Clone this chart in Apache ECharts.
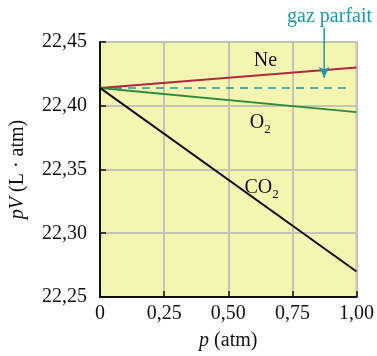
<!DOCTYPE html>
<html>
<head>
<meta charset="utf-8">
<script src="https://cdn.jsdelivr.net/npm/echarts@6/dist/echarts.min.js"></script>
<style>
  html, body { margin: 0; padding: 0; background: #fff; }
  #main { width: 377px; height: 356px; }
</style>
</head>
<body>
<div id="main"></div>
<script>
// pression (atm) aux extrémités des droites
var pressure = [0, 1.0];
var ne = [22.414, 22.430];
var o2 = [22.414, 22.395];
var co2 = [22.414, 22.270];
// gaz parfait : pV constant
var idealP = [0, 0.965];
var ideal = [22.414, 22.414];
// flèche "gaz parfait"
var arrowP = [0.874, 0.874];
var arrowPV = [22.461, 22.422];

var xTicks = ['0', '0,25', '0,50', '0,75', '1,00'];
var yMin = 22.25, yMax = 22.45;

function pairs(xs, ys) {
    return xs.map(function (x, i) { return [x, ys[i]]; });
}

var serif = 'Liberation Serif';
var ink = '#111';
var teal = '#1f97ab';
var myChart = echarts.init(document.getElementById('main'));

myChart.setOption({
    animation: false,
    textStyle: { fontFamily: serif },
    grid: {
        left: 96, right: 20, top: 42, bottom: 59,
        show: true,
        backgroundColor: '#f3f5b0',
        borderColor: '#c4c4b6',
        borderWidth: 2
    },
    xAxis: {
        type: 'value',
        min: 0, max: 1, interval: 0.25,
        name: '{i|p} (atm)',
        nameLocation: 'middle',
        nameGap: 34,
        nameTextStyle: {
            fontFamily: serif, fontSize: 20, color: ink,
            rich: { i: { fontFamily: serif, fontStyle: 'italic', fontSize: 20, color: ink } }
        },
        axisLine: { lineStyle: { color: ink, width: 2 } },
        axisTick: { inside: true, length: 6, lineStyle: { color: ink, width: 1.5 } },
        axisLabel: {
            fontFamily: serif, fontSize: 20, color: ink, margin: 7,
            formatter: function (v) { return xTicks[Math.round(v / 0.25)]; }
        },
        splitLine: { show: true, lineStyle: { color: '#c4c4b6', width: 2 } }
    },
    yAxis: {
        type: 'value',
        min: yMin, max: yMax, interval: 0.05,
        name: '{i|pV} (L · atm)',
        nameLocation: 'middle',
        nameGap: 72,
        nameRotate: 90,
        nameTextStyle: {
            fontFamily: serif, fontSize: 20, color: ink,
            rich: { i: { fontFamily: serif, fontStyle: 'italic', fontSize: 20, color: ink } }
        },
        axisLine: { show: true, lineStyle: { color: ink, width: 2 } },
        axisTick: { show: true, inside: true, length: 6, lineStyle: { color: ink, width: 1.5 } },
        axisLabel: {
            fontFamily: serif, fontSize: 20, color: ink, margin: 13,
            formatter: function (v) { return v.toFixed(2).replace('.', ','); }
        },
        splitLine: { show: true, lineStyle: { color: '#c4c4b6', width: 2 } }
    },
    series: [
        {
            name: 'gaz parfait',
            type: 'line',
            data: pairs(idealP, ideal),
            symbol: 'none',
            lineStyle: { color: teal, width: 1.5, type: [8, 6] }
        },
        {
            name: 'flèche',
            type: 'line',
            clip: false,
            silent: true,
            lineStyle: { color: teal, width: 1.5 },
            itemStyle: { color: teal },
            data: [
                { value: [arrowP[0], arrowPV[0]], symbol: 'none' },
                { value: [arrowP[1], arrowPV[1]], symbol: 'arrow', symbolSize: [8, 11], symbolRotate: 180 }
            ]
        },
        {
            name: 'Ne',
            type: 'line',
            data: pairs(pressure, ne),
            symbol: 'none',
            lineStyle: { color: '#b0283c', width: 2 }
        },
        {
            name: 'O2',
            type: 'line',
            data: pairs(pressure, o2),
            symbol: 'none',
            lineStyle: { color: '#2e8b3e', width: 2 }
        },
        {
            name: 'CO2',
            type: 'line',
            data: pairs(pressure, co2),
            symbol: 'none',
            lineStyle: { color: ink, width: 2 }
        },
        {
            name: 'étiquettes',
            type: 'scatter',
            symbolSize: 0,
            clip: false,
            silent: true,
            itemStyle: { opacity: 1 },
            label: {
                show: true,
                position: 'inside',
                fontFamily: serif,
                fontSize: 20,
                color: ink,
                formatter: function (p) { return p.data.text; },
                rich: {
                    t: { fontFamily: serif, fontSize: 20, color: ink },
                    s: { fontFamily: serif, fontSize: 13, color: ink, padding: [14, 0, 0, 0] },
                    g: { fontFamily: serif, fontSize: 20, color: teal }
                }
            },
            data: [
                { value: [0.645, 22.435], text: '{t|Ne}' },
                { value: [0.625, 22.387], text: '{t|O}{s|2}' },
                { value: [0.63, 22.336], text: '{t|CO}{s|2}' },
                { value: [0.895, 22.4695], text: '{g|gaz parfait}' }
            ]
        }
    ]
});
</script>
</body>
</html>
